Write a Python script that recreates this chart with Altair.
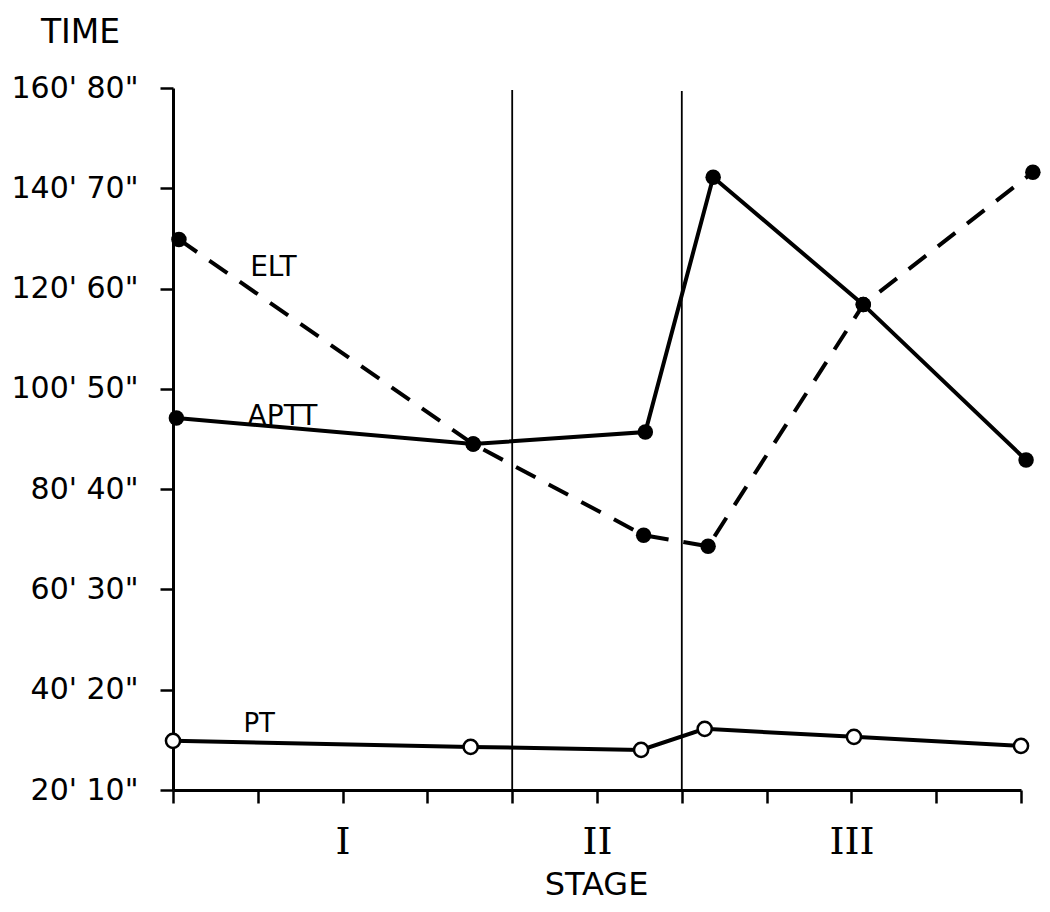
import altair as alt
import pandas as pd

# ---- data ----
stage_ticks = list(range(0, 11))
stage_label_pos = [2, 5, 8]
stage_labels = ["I", "II", "III"]
stage_bounds = [4, 6]
stage_bound_top = [79.8, 79.7]

y_ticks = [10, 20, 30, 40, 50, 60, 70, 80]
y_tick_labels = ["20' 10\"", "40' 20\"", "60' 30\"", "80' 40\"",
                 "100' 50\"", "120' 60\"", "140' 70\"", "160' 80\""]

elt_x = [0.07, 3.54, 5.55, 6.31, 8.14, 10.14]
elt_y = [64.9, 44.5, 35.4, 34.3, 58.4, 71.6]
aptt_x = [0.04, 3.54, 5.57, 6.37, 8.14, 10.06]
aptt_y = [47.1, 44.5, 45.7, 71.1, 58.4, 42.9]
pt_x = [0.0, 3.51, 5.52, 6.27, 8.03, 10.0]
pt_y = [14.9, 14.3, 14.0, 16.1, 15.3, 14.4]

series_names = ["ELT", "APTT", "PT"]
series_label_x = [0.91, 0.88, 0.83]
series_label_y = [61.3, 46.4, 15.8]
series_label_size = [28, 28, 26]

# ---- build tables ----
elt = pd.DataFrame({"x": elt_x, "y": elt_y})
aptt = pd.DataFrame({"x": aptt_x, "y": aptt_y})
pt = pd.DataFrame({"x": pt_x, "y": pt_y})
bounds = pd.DataFrame({"x": stage_bounds, "y": [10] * len(stage_bounds), "y2": stage_bound_top})
labels = pd.DataFrame({"x": series_label_x, "y": series_label_y,
                       "t": series_names, "s": series_label_size})


def ternary(keys, vals):
    expr = "''"
    for k, v in reversed(list(zip(keys, vals))):
        expr = f"datum.value == {k} ? '{v}' : ({expr})"
    return expr


y_label_expr = ternary(y_ticks, [s.replace("'", "\\'") for s in y_tick_labels])
x_label_expr = ternary(stage_label_pos, stage_labels)

xscale = alt.Scale(domain=[0, 10], nice=False, zero=False)
yscale = alt.Scale(domain=[10, 80], nice=False, zero=False)

xaxis = alt.Axis(
    values=stage_ticks, labelExpr=x_label_expr, grid=False,
    domainColor="black", domainWidth=3, tickColor="black", tickWidth=2.5,
    tickSize=13, labelFont="DejaVu Serif", labelFontSize=38, labelColor="black",
    labelPadding=50, labelBaseline="alphabetic", labelFlush=False, labelOverlap=False,
    title="STAGE", titleFont="DejaVu Sans", titleFontSize=32, titleFontWeight="normal",
    titleColor="black", titleX=423, titleY=104, titleAlign="center",
    titleBaseline="alphabetic",
)
yaxis = alt.Axis(
    values=y_ticks, labelExpr=y_label_expr, grid=False,
    domainColor="black", domainWidth=3, tickColor="black", tickWidth=2.5,
    tickSize=13, labelFont="DejaVu Sans", labelFontSize=30, labelColor="black",
    labelPadding=22, labelBaseline="middle", labelFlush=False, labelOverlap=False,
    title="TIME", titleFont="DejaVu Sans", titleFontSize=33, titleFontWeight="normal",
    titleColor="black", titleAngle=0, titleX=-93, titleY=-46, titleAlign="center",
    titleBaseline="alphabetic",
)

rules = alt.Chart(bounds).mark_rule(color="black", strokeWidth=1.8).encode(
    x=alt.X("x:Q", scale=xscale, axis=xaxis),
    y=alt.Y("y:Q", scale=yscale, axis=yaxis),
    y2="y2:Q",
)

elt_line = alt.Chart(elt).mark_line(color="black", strokeWidth=4, strokeDash=[22, 15]).encode(
    x="x:Q", y="y:Q")
aptt_line = alt.Chart(aptt).mark_line(color="black", strokeWidth=4).encode(x="x:Q", y="y:Q")
pt_line = alt.Chart(pt).mark_line(color="black", strokeWidth=4).encode(x="x:Q", y="y:Q")

elt_pts = alt.Chart(elt).mark_point(shape="circle", filled=True, color="black", size=240, opacity=1).encode(
    x="x:Q", y="y:Q")
aptt_pts = alt.Chart(aptt).mark_point(shape="circle", filled=True, color="black", size=240, opacity=1).encode(
    x="x:Q", y="y:Q")
pt_pts = alt.Chart(pt).mark_point(shape="circle", filled=True, fill="white", stroke="black",
                                  strokeWidth=2.5, size=200, opacity=1).encode(x="x:Q", y="y:Q")

texts = alt.Chart(labels).mark_text(font="DejaVu Sans", align="left", baseline="alphabetic",
                                    color="black").encode(
    x="x:Q", y="y:Q", text="t:N", size=alt.Size("s:Q", scale=None, legend=None))

chart = alt.layer(rules, elt_line, aptt_line, pt_line, elt_pts, aptt_pts, pt_pts, texts).properties(
    width=848, height=702,
    padding={"left": 165, "top": 80, "right": 21, "bottom": 114},
    autosize=alt.AutoSizeParams(type="none"),
    background="white",
).configure_view(stroke=None)

chart.save("out.html", embed_options={"renderer": "svg", "actions": False})
